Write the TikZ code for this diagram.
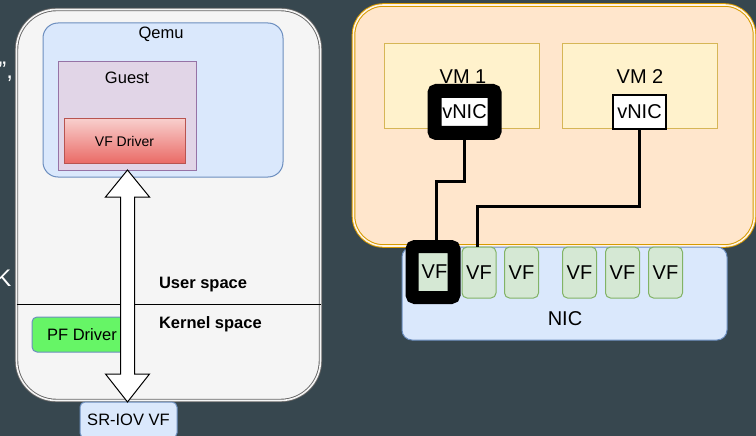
\documentclass[tikz,border=0pt]{standalone}
\usepackage{fontspec}
\setmainfont{Liberation Sans}
\definecolor{bg}{HTML}{37474F}
\definecolor{hostfill}{HTML}{F5F5F5}
\definecolor{hostline}{HTML}{666666}
\definecolor{bluefill}{HTML}{DAE8FC}
\definecolor{blueline}{HTML}{6C8EBF}
\definecolor{purfill}{HTML}{E1D5E7}
\definecolor{purline}{HTML}{9673A6}
\definecolor{redtop}{HTML}{F8CECC}
\definecolor{redbot}{HTML}{EA6B66}
\definecolor{redline}{HTML}{B85450}
\definecolor{pfgreen}{HTML}{66F566}
\definecolor{orfill}{HTML}{FFE6CC}
\definecolor{orline}{HTML}{D79B00}
\definecolor{orgap}{HTML}{FFF4E6}
\definecolor{vmfill}{HTML}{FFF2CC}
\definecolor{vmline}{HTML}{D6B656}
\definecolor{vffill}{HTML}{D5E8D4}
\definecolor{vfline}{HTML}{82B366}
\begin{document}
\begin{tikzpicture}[x=1pt,y=-1pt,
  every node/.style={inner sep=0pt, outer sep=0pt},
  f16/.style={font=\fontsize{16.5}{20}\selectfont},
  f16b/.style={font=\fontsize{16.5}{20}\selectfont\bfseries},
  f20/.style={font=\fontsize{20}{24}\selectfont},
  box/.style={draw, line width=1pt, rectangle},
  bluebox/.style={box, fill=bluefill, draw=blueline},
  vfbox/.style={box, fill=vffill, draw=vfline, rounded corners=5pt, minimum width=34pt, minimum height=51pt, f20},
  vmbox/.style={box, fill=vmfill, draw=vmline, minimum width=155pt, minimum height=85pt},
  conn/.style={draw=black, line width=3pt},
  frag/.style={text=white, font=\fontsize{24}{28}\selectfont, anchor=east}
]
\useasboundingbox[fill=bg] (0,0) rectangle (756,436);

% cut-off fragments at the left edge
\node[frag] (fragA) at (13,72) {”,};
\node[frag] (fragB) at (11.5,278) {K};

% ---------- left host ----------
\node[draw=hostline, line width=0.9pt, double=hostfill, double distance=1.6pt, fill=hostfill,
      rounded corners=40pt, minimum width=304pt, minimum height=391pt] (host) at (168.5,205) {};
\node[bluebox, rounded corners=15pt, minimum width=240pt, minimum height=154pt] (qemu) at (163,100) {};
\node[f16] (qemulbl) at (161,34) {Qemu};
\node[box, fill=purfill, draw=purline, minimum width=138pt, minimum height=108pt] (guest) at (127,116) {};
\node[f16] (guestlbl) at (127,78) {Guest};
\node[box, top color=redtop, bottom color=redbot, draw=redline, minimum width=121pt, minimum height=44pt,
      font=\fontsize{14}{17}\selectfont] (vfdrv) at (124.5,141) {VF Driver};

\draw[line width=0.9pt] (host.west |- 0,304) coordinate (splitL) -- (host.east |- 0,304) coordinate (splitR);
\node[f16b, anchor=west] (user) at (159,285) {User space};
\node[f16b, anchor=west] (kernel) at (159,324) {Kernel space};

\node[bluebox, fill=pfgreen, rounded corners=5pt, minimum width=100pt, minimum height=35pt, f16] (pf) at (82,334.5) {PF Driver};

\node[bluebox, rounded corners=5pt, minimum width=97pt, minimum height=36pt, f16] (sriov) at (128.5,420) {SR-IOV VF};

% double block arrow
\draw[fill=white, line width=1pt, line join=miter] (guest.south -| 127.5,0) -- (149.5,197) -- (134.5,197) -- (134.5,374) -- (149.5,374)
  -- (sriov.north -| 127.5,0) -- (105.5,374) -- (120.5,374) -- (120.5,197) -- (105.5,197) -- cycle;

% ---------- right host ----------
\node[draw=orline, line width=1pt, double=orgap, double distance=1.6pt, fill=orfill,
      rounded corners=30pt, minimum width=401pt, minimum height=241pt] (hostR) at (554,125.5) {};
\node[vmbox] (vm1) at (461.5,86.5) {};
\node[f20] (vm1lbl) at (463,77) {VM 1};
\node[vmbox] (vm2) at (639.5,86.5) {};
\node[f20] (vm2lbl) at (640,77) {VM 2};

\node[draw=black, fill=white, line width=14pt, rounded corners=2pt, minimum width=60pt, minimum height=42pt, f20] (vnic1) at (464.5,112) {vNIC};
\node[draw=black, fill=white, line width=2pt, minimum width=53pt, minimum height=34pt, f20] (vnic2) at (639.5,112) {vNIC};

\node[bluebox, rounded corners=10pt, minimum width=325pt, minimum height=93pt] (nic) at (564.5,293.5) {};
\node[f20] (niclbl) at (565,319) {NIC};

\node[vfbox, draw=black, line width=13pt, rounded corners=3pt, minimum width=42pt] (vf1) at (433,272) {\hspace*{3pt}VF};
\node[vfbox] (vf2) at (479,272.5) {VF};
\node[vfbox] (vf3) at (521.5,272.5) {VF};
\node[vfbox] (vf4) at (579.5,272.5) {VF};
\node[vfbox] (vf5) at (622.5,272.5) {VF};
\node[vfbox] (vf6) at (665.5,272.5) {VF};

\draw[conn] (vnic1.south) -- ++(0,48) -| ([xshift=3pt]vf1.north);
\draw[conn] (vnic2.south) -- ++(0,77) -| ([xshift=-2pt]vf2.north);
\end{tikzpicture}
\end{document}
